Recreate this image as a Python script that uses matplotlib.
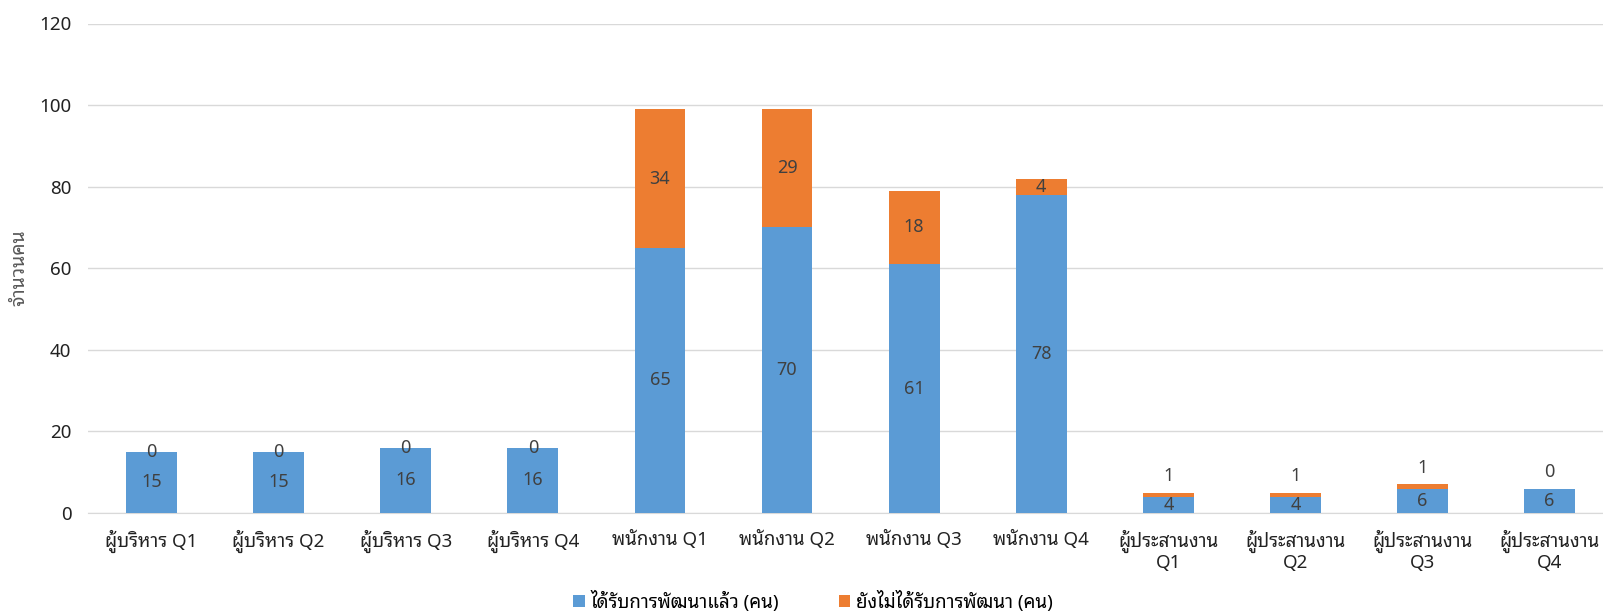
import numpy as np
import matplotlib
matplotlib.use('Agg')
import matplotlib.pyplot as plt

plt.rcParams['font.family'] = ['Noto Sans Thai Looped', 'Noto Sans', 'DejaVu Sans']

categories = ['ผู้บริหาร Q1', 'ผู้บริหาร Q2', 'ผู้บริหาร Q3', 'ผู้บริหาร Q4',
              'พนักงาน Q1', 'พนักงาน Q2', 'พนักงาน Q3', 'พนักงาน Q4',
              'ผู้ประสานงาน\nQ1', 'ผู้ประสานงาน\nQ2', 'ผู้ประสานงาน\nQ3', 'ผู้ประสานงาน\nQ4']
developed = [15, 15, 16, 16, 65, 70, 61, 78, 4, 4, 6, 6]
not_developed = [0, 0, 0, 0, 34, 29, 18, 4, 1, 1, 1, 0]
series_names = ['ได้รับการพัฒนาแล้ว (คน)', 'ยังไม่ได้รับการพัฒนา (คน)']
yticks = [0, 20, 40, 60, 80, 100, 120]

blue = '#5B9BD5'
orange = '#ED7D31'
txt = '#404040'

W, H = 1603, 614
fig = plt.figure(figsize=(W / 100, H / 100), dpi=100)
left, bottom, top = 88, 513, 23.5
ax = fig.add_axes([left / W, 1 - bottom / H, 1 - left / W, (bottom - top) / H])

x = np.arange(len(categories))
w = 0.4
b1 = ax.bar(x, developed, w, color=blue, label=series_names[0], zorder=3)
b2 = ax.bar(x, not_developed, w, bottom=developed, color=orange, label=series_names[1], zorder=3)

for i in range(len(categories)):
    d, n = developed[i], not_developed[i]
    ax.text(x[i], d / 2, str(d), ha='center', va='center', fontsize=13, color=txt, zorder=4)
    if n >= 2:
        yy = d + n / 2
    elif d > 10:
        yy = d + n
    else:
        yy = d + n + 4
    ax.text(x[i], yy, str(n), ha='center', va='center', fontsize=13, color=txt, zorder=4)

ax.set_xlim(-0.5, 1 + (W - left) / 127.1 - 1.5)
ax.set_ylim(0, 120)
ax.set_yticks(yticks)
ax.set_xticks(x)
ax.set_xticklabels(categories, fontsize=13.5, color='#222222', linespacing=1.05)
ax.tick_params(axis='y', labelsize=13.5, labelcolor='#222222', length=0, pad=12)
ax.tick_params(axis='x', length=0, pad=12)
ax.grid(axis='y', color='#D9D9D9', linewidth=1, zorder=0)
for s in ['top', 'right', 'left']:
    ax.spines[s].set_visible(False)
ax.spines['bottom'].set_color('#D9D9D9')

fig.text(19 / W, 1 - 268 / H, 'จำนวนคน', rotation=90, ha='center', va='center',
         fontsize=14, color='#595959', fontweight='bold')

fig.legend(handles=[b1, b2], loc='center', bbox_to_anchor=(813 / W, 1 - 601 / H), ncol=2,
           frameon=False, fontsize=13.5, handlelength=0.6, handleheight=0.6,
           columnspacing=3.2, handletextpad=0.3)

fig.savefig('out.png', dpi=100)
